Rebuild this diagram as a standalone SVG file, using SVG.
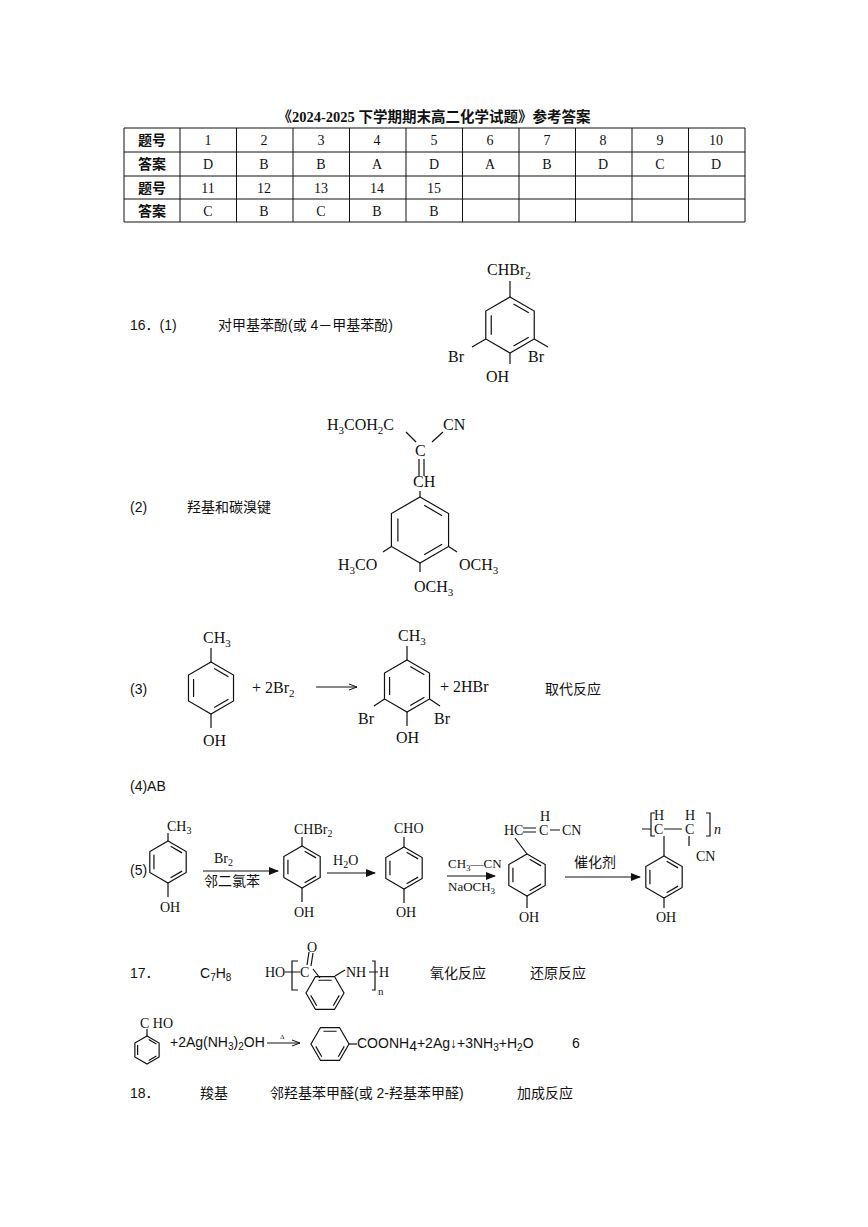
<svg xmlns="http://www.w3.org/2000/svg" width="868" height="1227" viewBox="0 0 868 1227">
<style>
.c{font-family:"Liberation Sans","Noto Sans CJK SC",sans-serif;font-size:14px;fill:#111}
.z{font-family:"Liberation Serif","Noto Sans CJK SC",serif;font-size:14px;fill:#111}
.t{font-family:"Liberation Serif",serif;font-size:16px;fill:#111}
.s{font-family:"Liberation Serif",serif;font-size:14px;fill:#111}
.ln{stroke:#111;stroke-width:1.2;fill:none}
.ring{stroke:#111;stroke-width:1.2;fill:none;vector-effect:non-scaling-stroke}
.tb{stroke:#111;stroke-width:1;fill:none}
.tm{text-anchor:middle}
</style>
<defs>
<g id="ring"><path class="ring" d="M0,-20L17.32,-10L17.32,10L0,20L-17.32,10L-17.32,-10Z M2.5,-15L13.4,-8.7 M13.4,8.7L2.5,15 M-13.4,-7L-13.4,7"/></g>
<marker id="ah" markerWidth="10" markerHeight="8" refX="9" refY="4" orient="auto" markerUnits="userSpaceOnUse"><path d="M0,0L10,4L0,8Z" fill="#111"/></marker>
<marker id="hh" markerWidth="10" markerHeight="8" refX="9" refY="4" orient="auto" markerUnits="userSpaceOnUse"><path d="M1,1L9,4L1,7" stroke="#111" stroke-width="1" fill="none"/></marker>
</defs>
<rect width="868" height="1227" fill="#fff"/>

<g id="table">
<text x="434" y="122" class="z tm" style="font-weight:bold;font-size:14.5px">《2024-2025 下学期期末高二化学试题》参考答案</text>
<path class="tb" d="M124,128H745V222H124Z M124,152H745 M124,176H745 M124,199H745 M180,128V222 M236.5,128V222 M293,128V222 M349.5,128V222 M406,128V222 M462.5,128V222 M519,128V222 M575.5,128V222 M632,128V222 M688.5,128V222"/>
<g class="z tm" style="font-weight:bold"><text x="152" y="145">题号</text><text x="152" y="169">答案</text><text x="152" y="193">题号</text><text x="152" y="216">答案</text></g>
<g class="z tm"><text x="208" y="145">1</text><text x="264" y="145">2</text><text x="321" y="145">3</text><text x="377" y="145">4</text><text x="434" y="145">5</text><text x="490" y="145">6</text><text x="547" y="145">7</text><text x="603" y="145">8</text><text x="660" y="145">9</text><text x="716" y="145">10</text>
<text x="208" y="169">D</text><text x="264" y="169">B</text><text x="321" y="169">B</text><text x="377" y="169">A</text><text x="434" y="169">D</text><text x="490" y="169">A</text><text x="547" y="169">B</text><text x="603" y="169">D</text><text x="660" y="169">C</text><text x="716" y="169">D</text>
<text x="208" y="193">11</text><text x="264" y="193">12</text><text x="321" y="193">13</text><text x="377" y="193">14</text><text x="434" y="193">15</text>
<text x="208" y="216">C</text><text x="264" y="216">B</text><text x="321" y="216">C</text><text x="377" y="216">B</text><text x="434" y="216">B</text></g>
</g>

<g id="q16-1">
<text x="130" y="330" class="c">16．(1)</text>
<text x="218" y="330" class="c">对甲基苯酚(或 4－甲基苯酚)</text>
<text x="487" y="275" class="t">CHBr<tspan font-size="11" dy="4">2</tspan></text>
<use href="#ring" transform="translate(510,325) scale(1.4)"/>
<path class="ln" d="M510,281V297 M485.8,339L472,347 M534.2,339L548,347 M510,353V364"/>
<text x="448" y="362" class="t">Br</text><text x="528" y="362" class="t">Br</text><text x="486" y="382" class="t">OH</text>
</g>

<g id="q16-2">
<text x="130" y="512" class="c">(2)</text>
<text x="187" y="512" class="c">羟基和碳溴键</text>
<text x="327" y="430" class="t">H<tspan font-size="11" dy="4">3</tspan><tspan dy="-4">COH</tspan><tspan font-size="11" dy="4">2</tspan><tspan dy="-4">C</tspan></text>
<text x="443" y="430" class="t">CN</text>
<text x="415" y="456" class="t">C</text>
<path class="ln" d="M406,432L416,442 M432,442L443,432 M419,459V476 M424,459V476 M420,491V497"/>
<text x="413" y="487" class="t">CH</text>
<use href="#ring" transform="translate(420,530) scale(1.65)"/>
<path class="ln" d="M391.4,546.5L383,552 M448.6,546.5L457,552 M420,563V572"/>
<text x="338" y="570" class="t">H<tspan font-size="11" dy="4">3</tspan><tspan dy="-4">CO</tspan></text>
<text x="459" y="570" class="t">OCH<tspan font-size="11" dy="4">3</tspan></text>
<text x="414" y="592" class="t">OCH<tspan font-size="11" dy="4">3</tspan></text>
</g>

<g id="q16-3">
<text x="130" y="694" class="c">(3)</text>
<text x="203" y="643" class="t">CH<tspan font-size="11" dy="4">3</tspan></text>
<use href="#ring" transform="translate(211,688) scale(1.3)"/>
<path class="ln" d="M211,648V662 M211,714V728"/>
<text x="203" y="746" class="t">OH</text>
<text x="252" y="693" class="t">+ 2Br<tspan font-size="11" dy="4">2</tspan></text>
<line class="ln" x1="316" y1="687" x2="357" y2="687" marker-end="url(#hh)"/>
<text x="398" y="641" class="t">CH<tspan font-size="11" dy="4">3</tspan></text>
<use href="#ring" transform="translate(407,686) scale(1.3)"/>
<path class="ln" d="M407,646V660 M384.5,699L374,706 M429.5,699L440,706 M407,712V726"/>
<text x="358" y="724" class="t">Br</text><text x="434" y="724" class="t">Br</text><text x="396" y="743" class="t">OH</text>
<text x="440" y="692" class="t">+ 2HBr</text>
<text x="545" y="694" class="c">取代反应</text>
</g>

<text id="q16-4" x="130" y="791" class="c">(4)AB</text>

<g id="q16-5">
<text x="130" y="875" class="c">(5)</text>
<text x="167" y="831" class="s">CH<tspan font-size="10" dy="3">3</tspan></text>
<use href="#ring" transform="translate(168,862) scale(1.05)"/>
<path class="ln" d="M168,833V841 M168,883V897"/>
<text x="160" y="912" class="s">OH</text>
<line class="ln" x1="203" y1="871" x2="278" y2="871" marker-end="url(#ah)"/>
<text x="214" y="863" class="s">Br<tspan font-size="10" dy="3">2</tspan></text>
<text x="204" y="886" class="z">邻二氯苯</text>
<text x="294" y="834" class="s">CHBr<tspan font-size="10" dy="3">2</tspan></text>
<use href="#ring" transform="translate(302,867) scale(1.05)"/>
<path class="ln" d="M302,837V846 M302,888V902"/>
<text x="294" y="917" class="s">OH</text>
<line class="ln" x1="327" y1="873" x2="375" y2="873" marker-end="url(#ah)"/>
<text x="333" y="865" class="s">H<tspan font-size="10" dy="3">2</tspan><tspan dy="-3">O</tspan></text>
<text x="394" y="833" class="s">CHO</text>
<use href="#ring" transform="translate(404,868) scale(1.05)"/>
<path class="ln" d="M404,837V847 M404,889V903"/>
<text x="396" y="917" class="s">OH</text>
<line class="ln" x1="447" y1="876" x2="495" y2="876" marker-end="url(#ah)"/>
<text x="448" y="868" class="s" style="font-size:13px">CH<tspan font-size="9" dy="3">3</tspan><tspan dy="-3">—CN</tspan></text>
<text x="448" y="891" class="s" style="font-size:13px">NaOCH<tspan font-size="9" dy="3">3</tspan></text>
<text x="504" y="835" class="s">HC</text>
<path class="ln" d="M523,828H536 M523,832H536 M550,830H560"/>
<text x="539" y="835" class="s">C</text><text x="540" y="821" class="s">H</text>
<text x="562" y="835" class="s">CN</text>
<use href="#ring" transform="translate(527,875) scale(1.05)"/>
<path class="ln" d="M515,838L527,854 M527,896V908"/>
<text x="519" y="922" class="s">OH</text>
<line class="ln" x1="565" y1="877" x2="640" y2="877" marker-end="url(#ah)"/>
<text x="574" y="867" class="z">催化剂</text>
<path class="ln" d="M642,829H651 M655,813H651V836H655 M706,813H710V836H706 M664,829H682"/>
<text x="654" y="820" class="s">H</text><text x="654" y="834" class="s">C</text>
<text x="685" y="820" class="s">H</text><text x="685" y="834" class="s">C</text>
<path class="ln" d="M689,836V846 M664,836V856"/>
<text x="714" y="834" class="s" style="font-style:italic">n</text>
<text x="696" y="861" class="s">CN</text>
<use href="#ring" transform="translate(664,877) scale(1.05)"/>
<path class="ln" d="M664,898V908"/>
<text x="656" y="922" class="s">OH</text>
</g>

<g id="q17">
<text x="130" y="978" class="c">17．</text>
<text x="200" y="978" class="c">C<tspan font-size="10" dy="3">7</tspan><tspan dy="-3">H</tspan><tspan font-size="10" dy="3">8</tspan></text>
<text x="265" y="977" class="s">HO</text>
<path class="ln" d="M285,972H300 M298,961H292V990H298 M307,965L309,952 M311,966L313,953 M313,969L320,978 M372,961H375V990H372 M369,972H378"/>
<text x="300" y="977" class="s">C</text>
<text x="307" y="952" class="s">O</text>
<use href="#ring" transform="translate(325,993) rotate(90) scale(0.95)"/>
<path class="ln" d="M335,976L345,970"/>
<text x="346" y="977" class="s">NH</text>
<text x="379" y="977" class="s">H</text>
<text x="378" y="995" class="s" style="font-size:11px">n</text>
<text x="430" y="978" class="c">氧化反应</text>
<text x="530" y="978" class="c">还原反应</text>

<text x="140" y="1028" class="s">C HO</text>
<path class="ln" d="M147,1029V1036"/>
<use href="#ring" transform="translate(147,1050) scale(0.7)"/>
<text x="170" y="1047" class="c">+2Ag(NH<tspan font-size="10" dy="3">3</tspan><tspan dy="-3">)</tspan><tspan font-size="10" dy="3">2</tspan><tspan dy="-3">OH</tspan></text>
<line class="ln" x1="267" y1="1043" x2="300" y2="1043" marker-end="url(#hh)"/>
<text x="280" y="1039" class="s" style="font-size:7px">Δ</text>
<use href="#ring" transform="translate(330,1044) rotate(90) scale(0.95)"/>
<path class="ln" d="M349,1044H357"/>
<text x="357" y="1048" class="c">COONH<tspan dy="3">4</tspan><tspan dy="-3">+2Ag↓+3NH</tspan><tspan font-size="10" dy="3">3</tspan><tspan dy="-3">+H</tspan><tspan font-size="10" dy="3">2</tspan><tspan dy="-3">O</tspan></text>
<text x="572" y="1048" class="c">6</text>
</g>

<g id="q18">
<text x="130" y="1098" class="c">18．</text>
<text x="200" y="1098" class="c">羧基</text>
<text x="270" y="1098" class="c">邻羟基苯甲醛(或 2-羟基苯甲醛)</text>
<text x="517" y="1098" class="c">加成反应</text>
</g>
</svg>
